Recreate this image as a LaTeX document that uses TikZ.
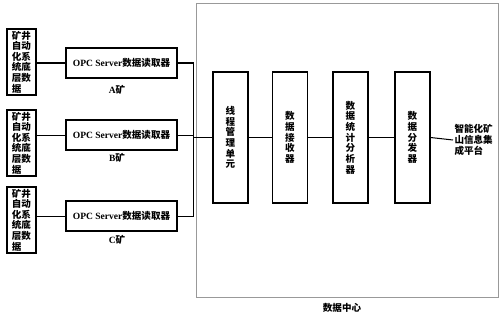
\documentclass[tikz,border=0pt]{standalone}
\usepackage{fontspec}
\setmainfont{Liberation Serif}
\newfontfamily\cjk{Noto Sans CJK SC}
\tikzset{
  srcbox/.style={draw,line width=1.1pt,minimum width=1.015cm,minimum height=2.31cm,align=left,inner sep=1pt},
  readbox/.style={draw,line width=1.1pt,minimum width=3.885cm,minimum height=1.05cm,inner sep=1pt},
  unitbox/.style={draw,line width=1.1pt,minimum width=1.225cm,minimum height=4.585cm,align=center,inner sep=1pt}
}
\begin{document}
\begin{tikzpicture}[x=0.035cm,y=-0.035cm,font=\cjk\bfseries\fontsize{9.5}{10.6}\selectfont,line width=1pt]
  \useasboundingbox (0,0) rectangle (500,315);
  % data centre frame
  \draw[black!40,line width=0.8pt] (196,3) rectangle (498,297);
  \node (centre) at (342,308) {数据中心};
  % three mines
  \foreach \n/\ys/\yr/\yl/\m in {1/62/63/90/A,2/143/135/158/B,3/220/216/240/C}{
    \node[srcbox] (src\n) at (21.5,\ys) {矿井\\自动\\化系\\统底\\层数\\据};
    \node[readbox] (opc\n) at (121.5,\yr) {{\rmfamily OPC Server}数据读取器};
    \node (mine\n) at (117,\yl) {{\rmfamily\m}矿};
    \draw (opc\n.west) -- (opc\n.west -| src\n.east);
  }
  % processing chain
  \node[unitbox] (thread) at (230.5,137.5) {线\\程\\管\\理\\单\\元};
  \node[unitbox] (recv) at (290,137.5) {数\\据\\接\\收\\器};
  \node[unitbox] (stat) at (350.5,137.5) {数\\据\\统\\计\\分\\析\\器};
  \node[unitbox] (dist) at (412.5,137.5) {数\\据\\分\\发\\器};
  \node[anchor=west,align=left,inner sep=1pt] (platform) at (453,140) {智能化矿\\山信息集\\成平台};
  % bus and links
  \coordinate (bus) at (193,0);
  \draw (opc1.east) -- (opc1.east -| bus) -- (opc3.east -| bus) -- (opc3.east);
  \draw (opc2.east) -- (opc2.east -| bus);
  \draw (bus |- thread.west) -- (thread.west);
  \draw (thread) -- (recv);
  \draw (recv) -- (stat);
  \draw (stat) -- (dist);
  \draw (dist.east) -- (platform.west);
\end{tikzpicture}
\end{document}
